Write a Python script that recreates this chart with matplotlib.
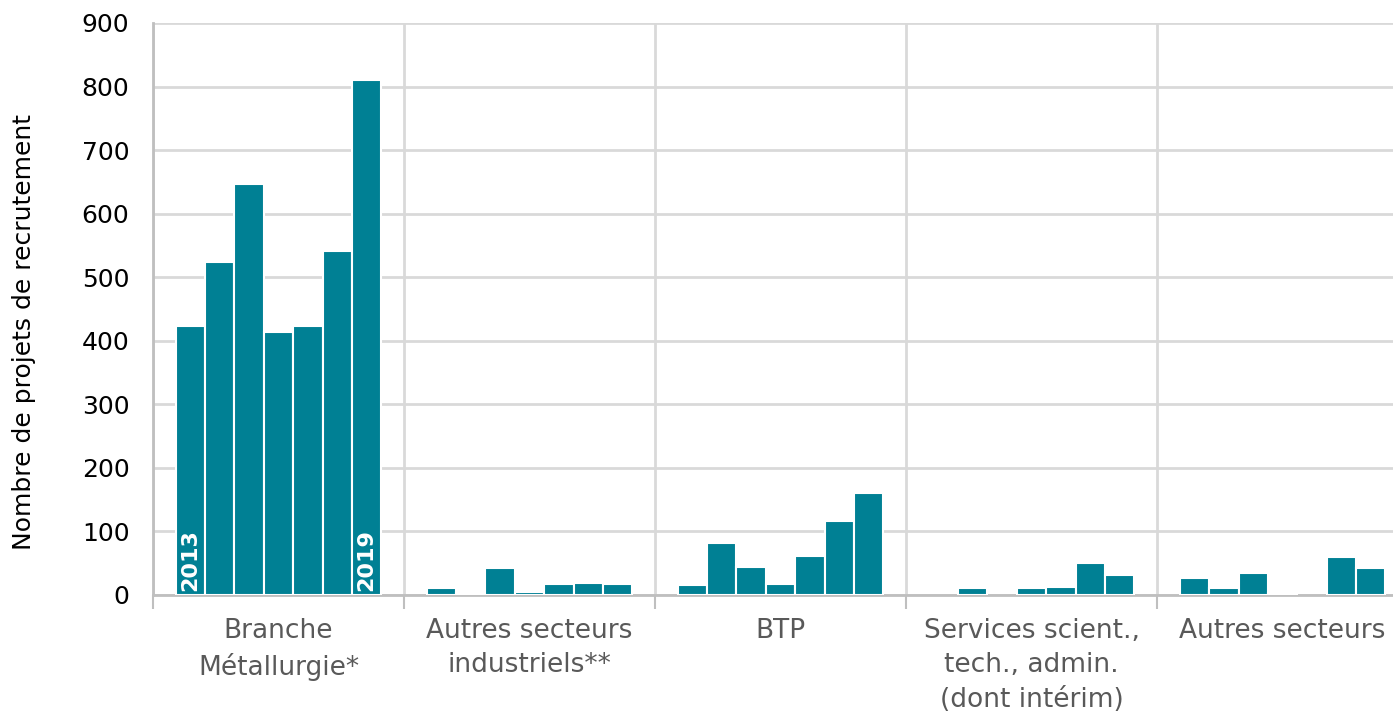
import numpy as np
import matplotlib
matplotlib.use('Agg')
import matplotlib.pyplot as plt

categories = ["Branche\nMétallurgie*", "Autres secteurs\nindustriels**", "BTP",
              "Services scient.,\ntech., admin.\n(dont intérim)", "Autres secteurs"]
years = [2013, 2014, 2015, 2016, 2017, 2018, 2019]

# une liste par secteur, 2013 -> 2019
metallurgie = [423, 524, 647, 414, 423, 541, 810]
autres_industriels = [11, 3, 42, 5, 18, 19, 17]
btp = [16, 82, 44, 17, 61, 116, 160]
services = [0, 11, 0, 11, 12, 50, 32]
autres = [27, 11, 35, 3, 0, 60, 42]

values = np.array([metallurgie, autres_industriels, btp, services, autres], dtype=float)

BAR_COLOR = "#008094"
GRID_COLOR = "#d9d9d9"
SPINE_COLOR = "#bfbfbf"

fig = plt.figure(figsize=(13.93, 7.19), dpi=100)
ax = fig.add_axes([153 / 1393, 1 - 595 / 719, 1 - 153 / 1393, (595 - 23) / 719])

n_years = len(years)
slot = 0.117
offsets = (np.arange(n_years) - (n_years - 1) / 2) * slot
x = np.arange(len(categories))

for j in range(n_years):
    h = values[:, j]
    h = np.where(h > 0, h, np.nan)  # pas de trait blanc pour les valeurs nulles
    ax.bar(x + offsets[j], h, width=slot, color=BAR_COLOR,
           edgecolor="white", linewidth=1.5, zorder=3)

# annee dans la premiere et la derniere barre
for j in [0, n_years - 1]:
    ax.text(x[0] + offsets[j], 6, str(years[j]), rotation=90, color="white",
            fontsize=16, fontweight="bold", ha="center", va="bottom", zorder=4)

ax.set_xlim(-0.5, 4.44)
ax.set_ylim(0, 900)
ax.set_yticks(np.arange(0, 901, 100))
ax.yaxis.grid(True, color=GRID_COLOR, linewidth=2, zorder=0)

# separateurs verticaux entre groupes
ax.set_xticks(np.arange(-0.5, 4.5, 1.0))
ax.set_xticklabels([])
ax.xaxis.grid(True, color=GRID_COLOR, linewidth=2, zorder=0)
ax.tick_params(axis="x", length=10, width=1.5, color=SPINE_COLOR)
ax.tick_params(axis="y", length=0, labelsize=18, pad=17)

for i, cat in enumerate(categories):
    ax.text(x[i], -36, cat, ha="center", va="top", fontsize=19,
            color="#595959", linespacing=1.42, transform=ax.transData)

for side in ["top", "right"]:
    ax.spines[side].set_visible(False)
for side in ["left", "bottom"]:
    ax.spines[side].set_color(SPINE_COLOR)
    ax.spines[side].set_linewidth(2)

ax.set_ylabel("Nombre de projets de recrutement", fontsize=18)
ax.yaxis.set_label_coords(-0.094, 0.46)

fig.savefig("out.png", dpi=100)
